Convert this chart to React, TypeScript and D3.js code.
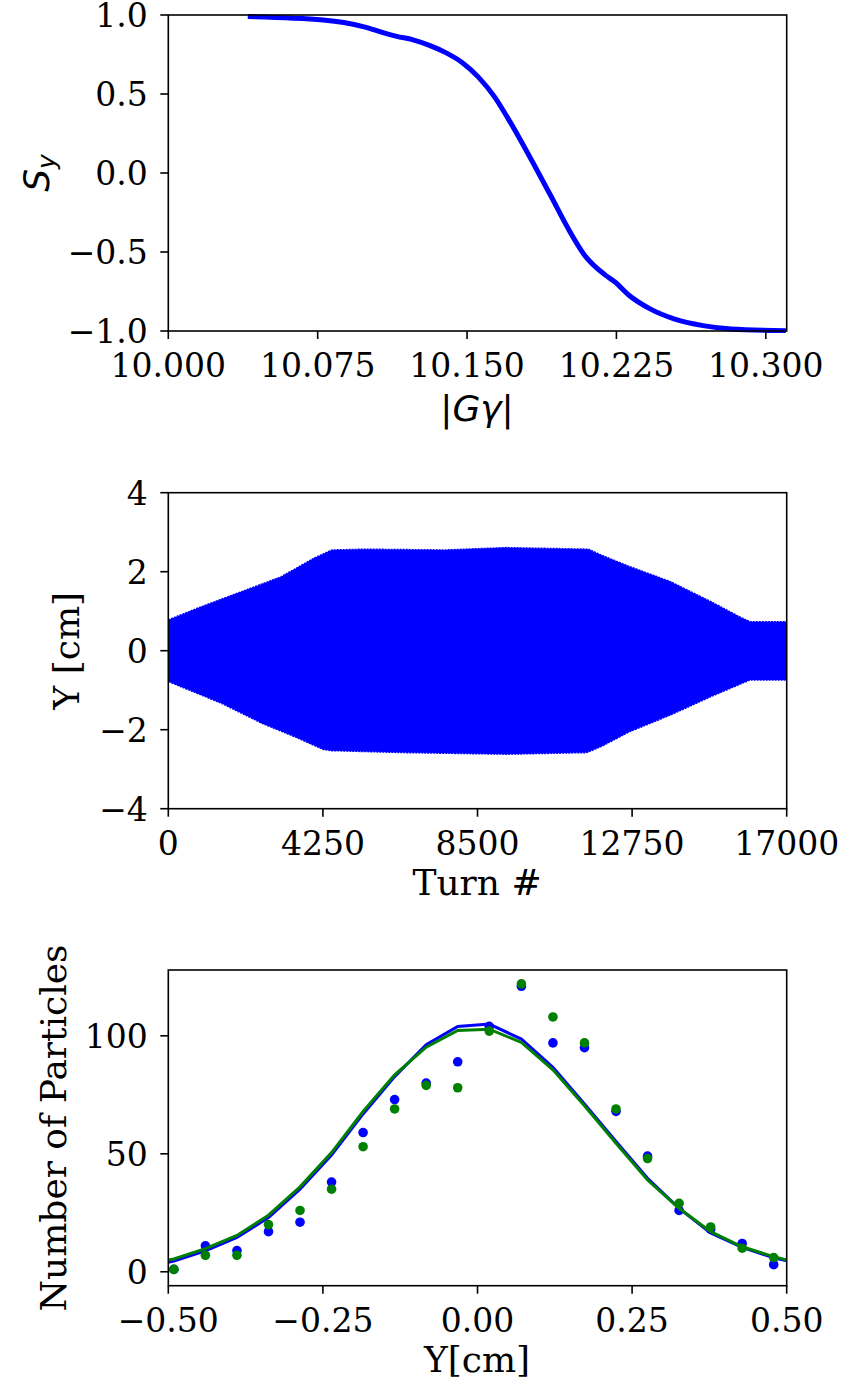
import React from 'react';
import * as d3 from 'd3';

const W = 847;
const H = 1387;
const SERIF = '"DejaVu Serif", serif';
const SANS = '"DejaVu Sans", sans-serif';
const BLUE = '#0000ff';
const GREEN = '#008000';

// ---- Panel 1: S_y vs |G gamma|
const ggamma = [10.0399, 10.0778, 10.0881, 10.0983, 10.1086, 10.1147, 10.1229, 10.1311, 10.1393, 10.1475, 10.1557, 10.1639, 10.1701, 10.1761, 10.1844, 10.1927, 10.2007, 10.209, 10.2193, 10.2243, 10.2313, 10.2419, 10.2539, 10.2685, 10.2825, 10.3101];
const syValues = [0.99, 0.968, 0.952, 0.925, 0.885, 0.865, 0.843, 0.808, 0.762, 0.70, 0.607, 0.48, 0.355, 0.225, 0.035, -0.16, -0.35, -0.52, -0.645, -0.69, -0.774, -0.86, -0.923, -0.966, -0.987, -0.998];
const p1XTicks = [10.0, 10.075, 10.15, 10.225, 10.3];
const p1YTicks = [-1, -0.5, 0, 0.5, 1];

// ---- Panel 2: Y envelope vs turn
const upperTurns = [0, 900, 2000, 3100, 4000, 4500, 5400, 7600, 9300, 11550, 11900, 12680, 13800, 14920, 15700, 16000, 17000];
const upperAmp = [0.78, 1.11, 1.49, 1.87, 2.34, 2.55, 2.57, 2.55, 2.61, 2.57, 2.42, 2.13, 1.75, 1.24, 0.86, 0.73, 0.73];
const lowerTurns = [0, 1460, 2580, 3480, 4260, 4490, 6500, 9300, 11500, 11890, 12680, 13800, 14920, 15990, 17000];
const lowerAmp = [-0.78, -1.33, -1.84, -2.18, -2.5, -2.53, -2.58, -2.62, -2.58, -2.43, -2.05, -1.63, -1.16, -0.74, -0.74];
const p2XTicks = [0, 4250, 8500, 12750, 17000];
const p2YTicks = [-4, -2, 0, 2, 4];

// ---- Panel 3: histogram points and fitted lines
const binCenters = [-0.491, -0.44, -0.389, -0.338, -0.287, -0.236, -0.185, -0.134, -0.083, -0.032, 0.019, 0.071, 0.122, 0.173, 0.224, 0.275, 0.326, 0.377, 0.428, 0.479];
const blueCounts = [1, 11, 9, 17, 21, 38, 59, 73, 80, 89, 104, 121, 97, 95, 68, 49, 26, 18, 12, 3];
const greenCounts = [1, 7, 7, 20, 26, 35, 53, 69, 79, 78, 102, 122, 108, 97, 69, 48, 29, 19, 10, 6];
const fitX = [-0.5, -0.491, -0.44, -0.389, -0.338, -0.287, -0.236, -0.185, -0.134, -0.083, -0.032, 0.019, 0.071, 0.122, 0.173, 0.224, 0.275, 0.326, 0.377, 0.428, 0.479, 0.5];
const blueFit = [4.0, 4.5, 8.9, 14.6, 23, 35, 49.5, 66.9, 82.7, 96.2, 104, 105, 98.6, 86.7, 71.1, 55.2, 39.6, 26.9, 16.5, 10.3, 5.9, 4.7];
const greenFit = [5.0, 5.4, 9.8, 15.4, 24, 36, 50.5, 67.9, 83.5, 95.2, 102.3, 102.8, 97.2, 85.6, 70.4, 54.5, 38.9, 26.9, 17, 10.6, 6.4, 5.0];
const p3XTicks = [-0.5, -0.25, 0, 0.25, 0.5];
const p3YTicks = [0, 50, 100];

const LEFT = 168.3;
const RIGHT = 786.7;
const TICK = 8;
const TICK_FS = 33;
const LABEL_FS = 36;

const minus = (s: string) => s.replace('-', '\u2212');

function Frame({ id, x, y, xTicks, yTicks, xFmt, yFmt }: any) {
  const [x0, x1] = x.range();
  const [y0, y1] = y.range();
  const top = Math.min(y0, y1);
  const bottom = Math.max(y0, y1);
  return (
    <g>
      <rect x={x0} y={top} width={x1 - x0} height={bottom - top} fill="none" stroke="#000" strokeWidth={1.6} />
      {xTicks.map((t: number) => (
        <g key={id + 'x' + t}>
          <line x1={x(t)} x2={x(t)} y1={bottom} y2={bottom + TICK} stroke="#000" strokeWidth={1.6} />
          <text x={x(t)} y={bottom + 46} textAnchor="middle" fontFamily={SERIF} fontSize={TICK_FS} fill="#000">
            {minus(xFmt(t))}
          </text>
        </g>
      ))}
      {yTicks.map((t: number) => (
        <g key={id + 'y' + t}>
          <line x1={x0 - TICK} x2={x0} y1={y(t)} y2={y(t)} stroke="#000" strokeWidth={1.6} />
          <text x={x0 - 20.5} y={y(t) + 12} textAnchor="end" fontFamily={SERIF} fontSize={TICK_FS} fill="#000">
            {minus(yFmt(t))}
          </text>
        </g>
      ))}
    </g>
  );
}

export default function App() {
  // Panel 1
  const x1 = d3.scaleLinear().domain([10.0, 10.3105]).range([LEFT, RIGHT]);
  const y1 = d3.scaleLinear().domain([-1, 1]).range([331, 15]);
  const p1 = ggamma.map((g, i) => [g, syValues[i]] as [number, number]);
  const line1 = d3.line<[number, number]>().x(d => x1(d[0])).y(d => y1(d[1])).curve(d3.curveMonotoneX);

  // Panel 2
  const x2 = d3.scaleLinear().domain([0, 17000]).range([LEFT, RIGHT]);
  const y2 = d3.scaleLinear().domain([-4, 4]).range([808.7, 492.7]);
  const upper = upperTurns.map((t, i) => [x2(t), y2(upperAmp[i])]);
  const lower = lowerTurns.map((t, i) => [x2(t), y2(lowerAmp[i])]).reverse();
  const envPath = d3.line()([...upper, ...lower] as [number, number][]) + 'Z';

  // Panel 3
  const x3 = d3.scaleLinear().domain([-0.5, 0.5]).range([LEFT, RIGHT]);
  const y3 = d3.scaleLinear().domain([-5.9, 127.9]).range([1285.7, 970]);
  const line3 = d3.line<number>().x((_, i) => x3(fitX[i])).y(d => y3(d));

  return (
    <svg width={W} height={H} style={{ position: 'absolute', left: 0, top: 0, background: '#fff' }}>
      <defs>
        <clipPath id="c1"><rect x={LEFT} y={13} width={RIGHT - LEFT} height={320} /></clipPath>
        <clipPath id="c2"><rect x={LEFT} y={492.7} width={RIGHT - LEFT} height={316} /></clipPath>
        <clipPath id="c3"><rect x={LEFT} y={970} width={RIGHT - LEFT} height={315.7} /></clipPath>
      </defs>
      <rect width={W} height={H} fill="#fff" />

      {/* Panel 1 */}
      <g clipPath="url(#c1)">
        <path d={line1(p1) || ''} fill="none" stroke={BLUE} strokeWidth={5} strokeLinecap="butt" />
      </g>
      <Frame id="p1" x={x1} y={y1} xTicks={p1XTicks} yTicks={p1YTicks} xFmt={d3.format('.3f')} yFmt={d3.format('.1f')} />
      <text transform="translate(49,173) rotate(-90)" textAnchor="middle" fontFamily={SANS} fontSize={LABEL_FS} fill="#000">
        <tspan fontStyle="italic">S</tspan>
        <tspan fontStyle="italic" fontSize={25} dy={6}>y</tspan>
      </text>
      <text x={477} y={421} textAnchor="middle" fontFamily={SANS} fontSize={LABEL_FS} fill="#000">
        |<tspan fontStyle="italic">Gγ</tspan>|
      </text>

      {/* Panel 2 */}
      <g clipPath="url(#c2)">
        <path d={envPath} fill={BLUE} stroke={BLUE} strokeWidth={1.5} strokeDasharray="2 1" />
      </g>
      <Frame id="p2" x={x2} y={y2} xTicks={p2XTicks} yTicks={p2YTicks} xFmt={d3.format('d')} yFmt={d3.format('d')} />
      <text transform="translate(79,650.7) rotate(-90)" textAnchor="middle" fontFamily={SERIF} fontSize={LABEL_FS} fill="#000">
        Y [cm]
      </text>
      <text x={477} y={895} textAnchor="middle" fontFamily={SERIF} fontSize={LABEL_FS} fill="#000">
        Turn #
      </text>

      {/* Panel 3 */}
      <g clipPath="url(#c3)">
        <path d={line3(blueFit) || ''} fill="none" stroke={BLUE} strokeWidth={3} />
        {binCenters.map((c, i) => (
          <circle key={'b' + i} cx={x3(c)} cy={y3(blueCounts[i])} r={4.8} fill={BLUE} />
        ))}
        <path d={line3(greenFit) || ''} fill="none" stroke={GREEN} strokeWidth={3} />
        {binCenters.map((c, i) => (
          <circle key={'g' + i} cx={x3(c)} cy={y3(greenCounts[i])} r={4.8} fill={GREEN} />
        ))}
      </g>
      <Frame id="p3" x={x3} y={y3} xTicks={p3XTicks} yTicks={p3YTicks} xFmt={d3.format('.2f')} yFmt={d3.format('d')} />
      <text transform="translate(66,1128) rotate(-90)" textAnchor="middle" fontFamily={SERIF} fontSize={LABEL_FS} fill="#000">
        Number of Particles
      </text>
      <text x={477} y={1372} textAnchor="middle" fontFamily={SERIF} fontSize={LABEL_FS} fill="#000">
        Y[cm]
      </text>
    </svg>
  );
}
